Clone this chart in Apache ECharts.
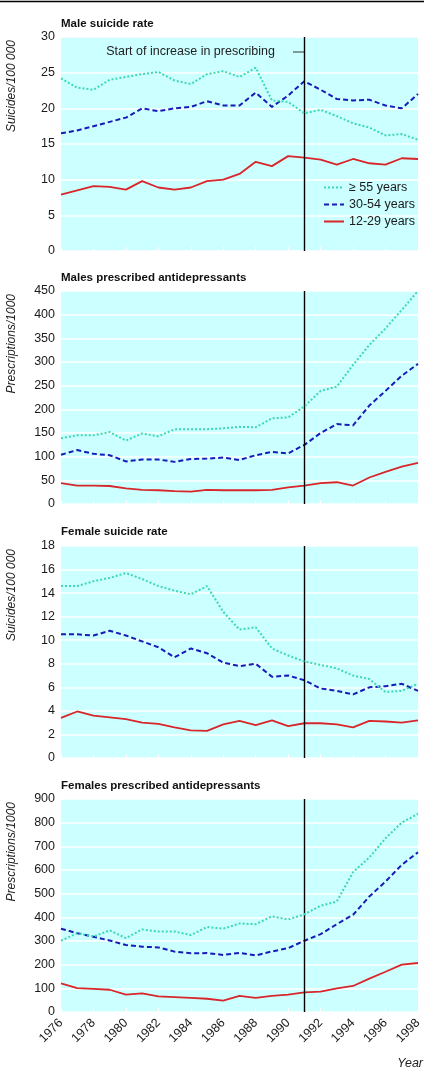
<!DOCTYPE html>
<html>
<head>
<meta charset="utf-8">
<script src="https://cdn.jsdelivr.net/npm/echarts@6/dist/echarts.min.js"></script>
<style>
html,body{margin:0;padding:0;background:#fff;}
#c{width:428px;height:1074px;}
</style>
</head>
<body>
<div id="c"></div>
<script>
var years = ['1976','1977','1978','1979','1980','1981','1982','1983','1984','1985','1986','1987','1988','1989','1990','1991','1992','1993','1994','1995','1996','1997','1998'];
var seriesNames = ['\u2265 55 years', '30-54 years', '12-29 years'];
var panelTitles = ['Male suicide rate', 'Males prescribed antidepressants', 'Female suicide rate', 'Females prescribed antidepressants'];
var axisNames = ['Suicides/100 000', 'Prescriptions/1000', 'Suicides/100 000', 'Prescriptions/1000'];
var axisMax = [30, 450, 18, 900];
var axisStep = [5, 50, 2, 100];
var markYear = '1991';
var annotation = 'Start of increase in prescribing';
var xName = 'Year';

var maleSuicide55   = [24.2,22.9,22.6,24.0,24.4,24.8,25.1,23.9,23.4,24.8,25.2,24.4,25.7,21.1,20.9,19.3,19.8,18.9,17.9,17.3,16.2,16.4,15.6];
var maleSuicide3054 = [16.5,16.9,17.5,18.1,18.7,20.0,19.6,20.0,20.2,21.0,20.4,20.4,22.2,20.2,21.8,23.8,22.6,21.3,21.1,21.2,20.4,20.0,22.0];
var maleSuicide1229 = [7.9,8.5,9.1,9.0,8.6,9.8,8.9,8.6,8.9,9.8,10.0,10.8,12.5,11.9,13.3,13.1,12.8,12.1,12.9,12.3,12.1,13.0,12.9];

var maleRx55   = [139,145,145,152,134,149,143,158,158,158,160,163,162,181,183,206,239,248,294,336,371,410,450];
var maleRx3054 = [104,114,106,103,90,94,94,89,95,96,98,93,103,110,107,125,150,169,166,208,239,271,296];
var maleRx1229 = [44,39,39,38,33,30,29,27,26,30,29,29,29,30,35,39,44,46,39,56,68,79,87];

var femaleSuicide55   = [14.6,14.6,15.0,15.3,15.7,15.2,14.6,14.2,13.9,14.6,12.4,10.9,11.1,9.3,8.7,8.2,7.9,7.6,7.0,6.7,5.6,5.7,6.3];
var femaleSuicide3054 = [10.5,10.5,10.4,10.8,10.4,9.9,9.4,8.55,9.3,8.9,8.1,7.8,8.0,6.9,7.0,6.6,5.9,5.7,5.4,6.0,6.1,6.3,5.7];
var femaleSuicide1229 = [3.4,3.95,3.6,3.45,3.3,3.0,2.9,2.6,2.35,2.3,2.85,3.15,2.8,3.2,2.7,2.95,2.95,2.85,2.6,3.15,3.1,3.0,3.2];

var femaleRx55   = [301,333,319,345,312,349,340,340,325,359,352,374,371,404,391,413,449,467,591,653,734,800,838];
var femaleRx3054 = [352,333,318,302,283,276,273,255,248,249,241,250,239,256,270,301,329,371,411,488,551,622,675];
var femaleRx1229 = [121,101,98,94,73,79,66,63,60,56,48,68,60,68,73,83,86,100,110,141,170,200,207];

var panels = [
  [maleSuicide55, maleSuicide3054, maleSuicide1229],
  [maleRx55, maleRx3054, maleRx1229],
  [femaleSuicide55, femaleSuicide3054, femaleSuicide1229],
  [femaleRx55, femaleRx3054, femaleRx1229]
];

var FONT = "'Liberation Sans', Arial, Helvetica, sans-serif";
var colors = ['#3ad9b6', '#1a1ab8', '#d8262a'];
var lineTypes = [[2, 2], [5, 3], 'solid'];
var lineWidths = [2, 2, 1.8];

var gridTops = [37, 291, 546, 799];
var gridHeights = [214, 213, 212, 213];
var titleTops = [18, 272, 526, 780];

var grids = [], xAxes = [], yAxes = [], series = [], titles = [], graphics = [];

gridTops.forEach(function (top, i) {
  grids.push({
    left: 61, top: top, width: 357, height: gridHeights[i],
    show: true, backgroundColor: '#ccffff', borderWidth: 0, containLabel: false
  });
  xAxes.push({
    type: 'category', gridIndex: i, data: years, boundaryGap: false,
    axisLine: { show: false },
    axisTick: { show: true, inside: true, length: 4, lineStyle: { color: '#ffffff', width: 1 } },
    splitLine: { show: false },
    axisLabel: {
      show: i === 3, interval: 1, rotate: 45, margin: 9,
      fontFamily: FONT, fontSize: 12.5, color: '#1a1a1a'
    }
  });
  yAxes.push({
    type: 'value', gridIndex: i, min: 0, max: axisMax[i], interval: axisStep[i],
    axisLine: { show: false }, axisTick: { show: false },
    splitLine: { show: true, lineStyle: { color: '#ffffff', width: 1.6 } },
    axisLabel: { fontFamily: FONT, fontSize: 12.5, color: '#1a1a1a', margin: 6 }
  });
  titles.push({
    text: panelTitles[i], left: 61, top: titleTops[i], padding: 0,
    textStyle: { fontFamily: FONT, fontSize: 11.5, fontWeight: 'bold', color: '#111' }
  });
  graphics.push({
    type: 'text', x: 12, y: top + 3, rotation: Math.PI / 2,
    style: {
      text: axisNames[i], fontFamily: FONT, fontSize: 12, fontStyle: 'italic',
      fill: '#222', textAlign: 'right', textVerticalAlign: 'middle'
    }
  });
  panels[i].forEach(function (vals, k) {
    var s = {
      name: seriesNames[k], type: 'line', xAxisIndex: i, yAxisIndex: i,
      data: vals, symbol: 'none', smooth: false, silent: true,
      lineStyle: { color: colors[k], width: lineWidths[k], type: lineTypes[k] },
      itemStyle: { color: colors[k] },
      z: 3 + (2 - k)
    };
    if (k === 0) {
      s.markLine = {
        silent: true, symbol: 'none', animation: false,
        label: { show: false },
        lineStyle: { color: '#000', width: 1.4, type: 'solid' },
        data: [{ xAxis: markYear }]
      };
    }
    series.push(s);
  });
});

graphics.push({
  type: 'line', shape: { x1: 0, y1: 1.5, x2: 424, y2: 1.5 },
  style: { stroke: '#000', lineWidth: 1.5 }
});
graphics.push({
  type: 'text', x: 275, y: 52,
  style: { text: annotation, fontFamily: FONT, fontSize: 12.5, fill: '#222', textAlign: 'right', textVerticalAlign: 'middle' }
});
graphics.push({
  type: 'line', shape: { x1: 293, y1: 52, x2: 304, y2: 52 },
  style: { stroke: '#333', lineWidth: 1 }
});
graphics.push({
  type: 'text', x: 423, y: 1064,
  style: { text: xName, fontFamily: FONT, fontSize: 12.5, fontStyle: 'italic', fill: '#222', textAlign: 'right', textVerticalAlign: 'middle' }
});

var chart = echarts.init(document.getElementById('c'), null, { renderer: 'canvas' });
chart.setOption({
  animation: false,
  backgroundColor: '#ffffff',
  title: titles,
  legend: {
    data: seriesNames, orient: 'vertical', left: 323, top: 181, padding: 0,
    itemWidth: 20, itemHeight: 14, itemGap: 4,
    itemStyle: { opacity: 0 },
    textStyle: { fontFamily: FONT, fontSize: 12.5, color: '#1a1a1a' },
    selectedMode: false
  },
  grid: grids, xAxis: xAxes, yAxis: yAxes, series: series, graphic: graphics
});
</script>
</body>
</html>
